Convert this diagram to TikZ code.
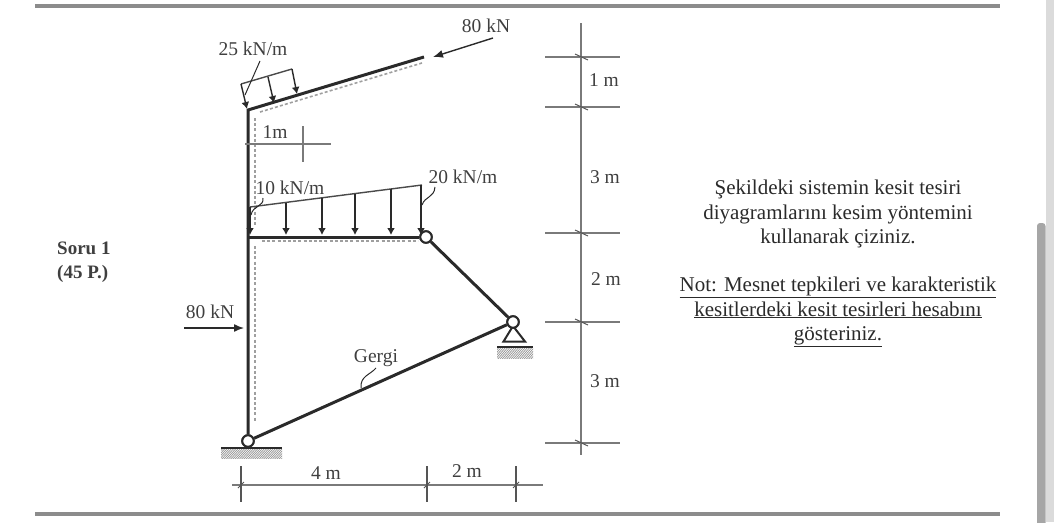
\documentclass[tikz,border=0pt]{standalone}
\usepackage{fontspec}
\setmainfont{Liberation Serif}
\usetikzlibrary{arrows.meta}
\definecolor{ink}{HTML}{2A2A2A}
\definecolor{dimc}{HTML}{7A7A7A}
\tikzset{
  member/.style={line width=3pt,draw=ink},
  thinline/.style={line width=1.4pt,draw=ink!85},
  dimline/.style={line width=1.6pt,draw=dimc},
  tick/.style={line width=1.3pt,draw=dimc!70!black},
  slash/.style={line width=1pt,draw=ink!80},
  dots/.style={line width=1.6pt,draw=gray!75,dash pattern=on 3pt off 2.2pt},
  loadarrow/.style={line width=1.4pt,draw=ink,-{Latex[length=7pt,width=8pt]}},
  forcearrow/.style={line width=1.4pt,draw=ink,-{Latex[length=10pt,width=8pt]}},
  hinge/.style={circle,draw=ink,fill=white,line width=2pt,minimum size=11.5pt,inner sep=0pt},
  lbl/.style={text=ink!90,font=\fontsize{19.5}{22}\selectfont,inner sep=0pt},
  para/.style={text=ink,font=\fontsize{21}{24.5}\selectfont,align=center,inner sep=0pt},
  rulebar/.style={line width=3.4pt,draw=gray!90},
  hatchline/.style={line width=.7pt,draw=gray!85}
}
\begin{document}
\begin{tikzpicture}[x=1pt,y=-1pt]
\useasboundingbox (0,0) rectangle (1059,522);
% page furniture
\fill[gray!28] (1045.5,0) rectangle (1054,522);
\fill[gray!70,rounded corners=3pt] (1037,223) rectangle (1045.5,530);
\draw[rulebar] (35,6) -- (1000,6);
\draw[rulebar] (35,514) -- (1000,514);
% coordinates
\coordinate (roof) at (248,110);
\coordinate (tip) at (424,57);
\coordinate (mid) at (248,237);
% ground hatch
\begin{scope}
\clip (221,449) rectangle (282,458);
\foreach \i in {0,2.2,...,84}{\draw[hatchline] (210+\i,460) -- (222+\i,447);}
\end{scope}
\begin{scope}
\clip (497,348) rectangle (533,358);
\foreach \i in {0,2.2,...,60}{\draw[hatchline] (486+\i,360) -- (498+\i,346);}
\end{scope}
\draw[line width=2pt,draw=ink] (221,448) -- (282,448);
\draw[line width=2pt,draw=ink] (497,347) -- (533,347);
% dotted fibres
\draw[dots] (260,112) -- (422,63);
\draw[dots] (255,118) -- (255,225);
\draw[dots] (262,241) -- (418,241);
\draw[dots] (255,246) -- (255,422);
% hinges (named)
\node[hinge] (A) at (248,441) {};
\node[hinge] (B) at (513,322) {};
\node[hinge] (C) at (426,237) {};
% support triangle
\draw[line width=2pt,draw=ink] (513,326) -- (503.5,341.5) -- (525,341.5) -- cycle;
% members
\draw[member] (A) -- (roof) -- (tip);
\draw[member] (mid) -- (C);
\draw[member] (C) -- (B);
\draw[member] (A) -- (B);
\node[hinge] at (A) {};
\node[hinge] at (B) {};
\node[hinge] at (C) {};
% top load
\coordinate (t1) at (241,84);
\coordinate (t2) at (268,77);
\coordinate (t3) at (292,69);
\draw[thinline] (t1) -- (t3);
\draw[loadarrow] (t1) -- (247,109);
\draw[loadarrow] (t2) -- (274,103);
\draw[loadarrow] (t3) -- (297,94);
\draw[line width=1pt,draw=ink] (260,61) -- (245,95);
% mid load
\coordinate (m0) at (250,207);
\coordinate (m5) at (422,185);
\draw[thinline] (m0) -- (m5);
\foreach \x/\y/\n in {250/207/0,286/202.5/1,322/198/2,355/194/3,391/189/4,421/185/5}
  \draw[loadarrow] (\x,\y) -- (\x,235);
\draw[line width=1pt,draw=ink] (263,198) .. controls (264,207) and (253,205) .. (251,215);
\draw[line width=1pt,draw=ink] (435,187) .. controls (434,198) and (425,196) .. (422,205);
% forces
\coordinate (f1) at (493,38);
\coordinate (f1e) at (433,57);
\draw[forcearrow] (f1) -- (f1e);
\coordinate (f2) at (184,328);
\coordinate (f2e) at (244,328);
\draw[forcearrow] (f2) -- (f2e);
% tie leader
\draw[line width=1pt,draw=ink] (376,368) .. controls (370,375) and (360,376) .. (361,388);
% 1m dimension
\draw[line width=1.2pt,draw=dimc] (245,144) -- (331,144);
\draw[line width=1.2pt,draw=dimc] (303,126) -- (303,162);
% bottom dimension
\draw[dimline] (232,485) -- (543,485);
\foreach \x in {241,427,516}{
  \draw[tick] (\x,466) -- (\x,502);
  \draw[slash] (\x-3,488) -- (\x+3,482);
}
% right dimension
\draw[dimline] (581,23) -- (581,455);
\foreach \y in {57,107,233,322,443}{
  \draw[dimline] (545,\y) -- (620,\y);
  \draw[slash] (575,\y-3) -- (588,\y+3);
}
% labels
\node[lbl] (l1) at (486,26) {80 kN};
\node[lbl] (l2) at (253,49) {25 kN/m};
\node[lbl] (l3) at (275,132) {1m};
\node[lbl] (l4) at (290,188) {10 kN/m};
\node[lbl] (l5) at (463,177) {20 kN/m};
\node[lbl] (l6) at (210,312) {80 kN};
\node[lbl] (l7) at (376,358) {Gergi};
\node[lbl] (l8) at (326,473) {4 m};
\node[lbl] (l9) at (467,471) {2 m};
\node[lbl] (r1) at (604,80) {1 m};
\node[lbl] (r2) at (605,177) {3 m};
\node[lbl] (r3) at (606,279) {2 m};
\node[lbl] (r4) at (605,381) {3 m};
\node[lbl,font=\fontsize{19}{24}\selectfont\bfseries,align=left,anchor=west] (s) at (57,262) {Soru 1\\(45 P.)};
\node[para] (p1) at (838,214) {Şekildeki sistemin kesit tesiri\\diyagramlarını kesim yöntemini\\kullanarak çiziniz.};
\node[para] (p2) at (838,312) {\underline{Not: Mesnet tepkileri ve karakteristik}\\\underline{kesitlerdeki kesit tesirleri hesabını}\\\underline{gösteriniz.}};
\end{tikzpicture}
\end{document}
